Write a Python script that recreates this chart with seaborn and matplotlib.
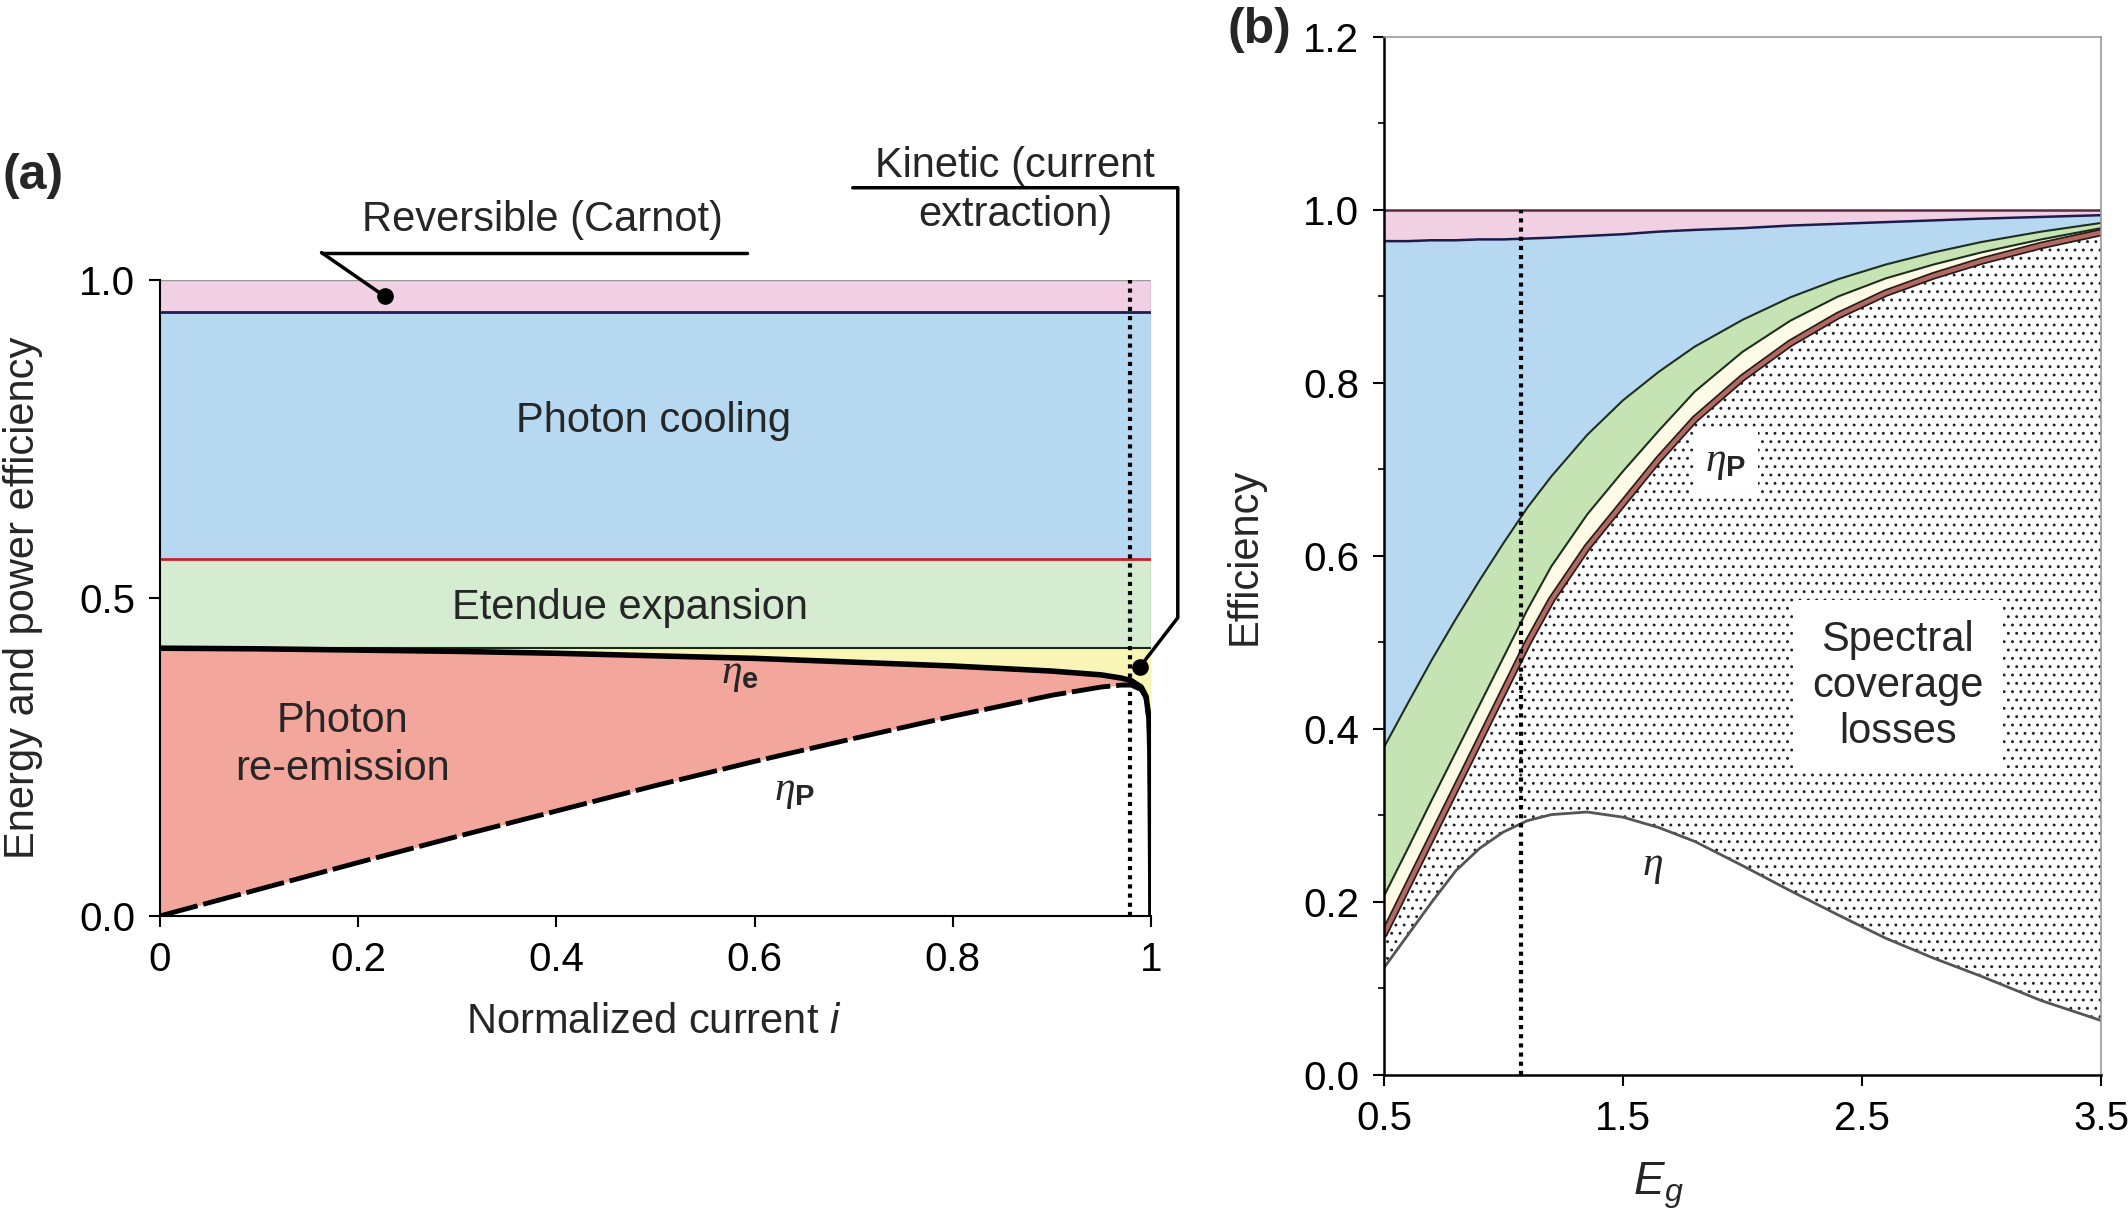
import matplotlib
matplotlib.use("Agg")
import matplotlib.pyplot as plt
import seaborn as sns
from matplotlib.ticker import MultipleLocator

# ---- panel (a) data: normalized current vs efficiency ----
i_cur = [0, 0.1, 0.2, 0.3, 0.4, 0.5, 0.6, 0.7, 0.8, 0.9, 0.95, 0.97, 0.98, 0.99, 0.995, 0.998, 0.999, 1.0]
eta_e = [0.421, 0.420, 0.418, 0.416, 0.413, 0.409, 0.405, 0.399, 0.393, 0.385, 0.379, 0.374, 0.370, 0.360, 0.345, 0.310, 0.250, 0.0]
eta_p_a = [0, 0.042, 0.084, 0.125, 0.165, 0.205, 0.243, 0.279, 0.314, 0.347, 0.360, 0.363, 0.363, 0.356, 0.343, 0.309, 0.250, 0.0]
carnot_a = 0.949
cooling_a = 0.561
etendue_a = 0.421
i_marker = 0.979

# ---- panel (b) data: band gap vs efficiency ----
eg = [0.5, 0.6, 0.7, 0.8, 0.9, 1.0, 1.1, 1.2, 1.35, 1.5, 1.65, 1.8, 2.0, 2.2, 2.4, 2.6, 2.8, 3.0, 3.25, 3.5]
carnot_b = [0.964, 0.964, 0.965, 0.965, 0.966, 0.966, 0.967, 0.968, 0.970, 0.972,
            0.975, 0.977, 0.979, 0.982, 0.984, 0.986, 0.988, 0.990, 0.992, 0.994]
green_top = [0.379, 0.430, 0.480, 0.527, 0.572, 0.615, 0.656, 0.692, 0.740, 0.780,
             0.813, 0.842, 0.873, 0.899, 0.920, 0.937, 0.951, 0.963, 0.975, 0.985]
green_bot = [0.207, 0.262, 0.318, 0.373, 0.428, 0.483, 0.538, 0.588, 0.648, 0.698,
             0.745, 0.790, 0.836, 0.872, 0.900, 0.921, 0.937, 0.951, 0.966, 0.979]
eta_p_b = [0.163, 0.219, 0.275, 0.331, 0.387, 0.443, 0.499, 0.549, 0.610, 0.661,
           0.712, 0.758, 0.806, 0.846, 0.878, 0.904, 0.924, 0.941, 0.959, 0.974]
eta_b = [0.124, 0.162, 0.200, 0.236, 0.262, 0.281, 0.294, 0.301, 0.304, 0.298,
         0.286, 0.270, 0.242, 0.213, 0.185, 0.158, 0.135, 0.114, 0.086, 0.063]
eg_marker = 1.075

sns.set_theme(style="ticks")
plt.rcParams['font.family'] = ['Liberation Sans', 'DejaVu Sans']
plt.rcParams['mathtext.fontset'] = 'custom'
plt.rcParams['mathtext.it'] = 'Liberation Serif:italic'
plt.rcParams['mathtext.rm'] = 'Liberation Sans'
plt.rcParams['mathtext.bf'] = 'Liberation Sans:bold'
plt.rcParams['mathtext.sf'] = 'Liberation Sans:italic'
plt.rcParams['hatch.linewidth'] = 0.9

PINK = '#f2d0e4'
BLUE = '#b6d8f1'
GREEN_A = '#d5ecd1'
GREEN_B = '#c6e3b3'
YELLOW = '#f8f5b6'
SALMON = '#f2a69c'
CREAM = '#fdfbe6'

fig = plt.figure(figsize=(21.28, 12.13), dpi=100)
ax1 = fig.add_axes([0.0752, 0.2449, 0.4657, 0.5243])
ax2 = fig.add_axes([0.6504, 0.1138, 0.3369, 0.8557])

FS = 30

# ================= panel (a) =================
ax1.fill_between([0, 1], carnot_a, 1.0, color=PINK, lw=0)
ax1.fill_between([0, 1], cooling_a, carnot_a, color=BLUE, lw=0)
ax1.fill_between([0, 1], etendue_a, cooling_a, color=GREEN_A, lw=0)
ax1.fill_between(i_cur, eta_e, etendue_a, color=YELLOW, lw=0)
ax1.fill_between(i_cur, eta_p_a, eta_e, color=SALMON, lw=0)

ax1.plot([0, 1], [1.0, 1.0], color='#999999', lw=1)
ax1.plot([1, 1], [etendue_a, 1.0], color='#aaaaaa', lw=1)
ax1.plot([0, 1], [carnot_a, carnot_a], color='#1c1c5c', lw=2)
ax1.plot([0, 1], [cooling_a, cooling_a], color='#c8202c', lw=2)
ax1.plot([0, 1], [etendue_a, etendue_a], color='#1a2a1a', lw=1.5)

sns.lineplot(x=i_cur, y=eta_e, ax=ax1, color='black', lw=4, sort=False)
sns.lineplot(x=i_cur, y=eta_p_a, ax=ax1, color='black', lw=3.5, linestyle=(0, (8, 1.2)), sort=False)
ax1.plot([i_marker, i_marker], [0, 1.0], color='black', lw=3, linestyle=(0, (1, 1.2)))

# annotations
ax1.plot([0.163, 0.592], [1.043, 1.043], color='black', lw=2.5, clip_on=False)
ax1.plot([0.163, 0.227], [1.043, 0.974], color='black', lw=2.5, clip_on=False)
ax1.plot([0.227], [0.974], 'o', color='black', ms=11, clip_on=False)
ax1.text(0.386, 1.094, 'Reversible (Carnot)', ha='center', va='center', fontsize=FS)

ax1.plot([0.699, 1.027, 1.027, 0.989], [1.145, 1.145, 0.469, 0.392], color='black', lw=2.5, clip_on=False)
ax1.plot([0.989], [0.392], 'o', color='black', ms=11, clip_on=False)
ax1.text(0.863, 1.179, 'Kinetic (current', ha='center', va='center', fontsize=FS)
ax1.text(0.863, 1.102, 'extraction)', ha='center', va='center', fontsize=FS)

ax1.text(0.498, 0.778, 'Photon cooling', ha='center', va='center', fontsize=FS)
ax1.text(0.474, 0.484, 'Etendue expansion', ha='center', va='center', fontsize=FS)
ax1.text(0.184, 0.269, 'Photon\nre-emission', ha='center', va='center', fontsize=FS, linespacing=1.25)
ax1.text(0.585, 0.381, r'$\eta_{\mathbf{e}}$', ha='center', va='center', fontsize=FS)
ax1.text(0.64, 0.196, r'$\eta_{\mathbf{P}}$', ha='center', va='center', fontsize=FS)

ax1.set_xlim(0, 1)
ax1.set_ylim(0, 1.0)
ax1.set_xticks([0, 0.2, 0.4, 0.6, 0.8, 1.0])
ax1.set_xticklabels(['0', '0.2', '0.4', '0.6', '0.8', '1'])
ax1.set_yticks([0, 0.5, 1.0])
ax1.set_yticklabels(['0.0', '0.5', '1.0'])
for side in ['top', 'right']:
    ax1.spines[side].set_visible(False)
for side in ['left', 'bottom']:
    ax1.spines[side].set_color('black')
    ax1.spines[side].set_linewidth(1.5)
ax1.tick_params(direction='out', length=8, width=1.5, labelsize=FS - 1, pad=10, colors='black')
ax1.set_xlabel(r'Normalized current $\mathsf{i}$', fontsize=FS)
ax1.set_ylabel('Energy and power efficiency', fontsize=FS)
ax1.xaxis.set_label_coords(0.498, -0.136)
ax1.yaxis.set_label_coords(-0.118, 0.5)

# ================= panel (b) =================
ax2.fill_between(eg, carnot_b, 1.0, color=PINK, lw=0)
ax2.fill_between(eg, green_top, carnot_b, color=BLUE, lw=0)
ax2.fill_between(eg, green_bot, green_top, color=GREEN_B, lw=0)
ax2.fill_between(eg, eta_p_b, green_bot, color=CREAM, lw=0)
ax2.fill_between(eg, eta_b, eta_p_b, facecolor='white', edgecolor='#222222', hatch='..', lw=0)

ax2.plot([0.5, 3.5], [1.0, 1.0], color='#5a2a40', lw=1.8)
sns.lineplot(x=eg, y=carnot_b, ax=ax2, color='#1c1c4c', lw=1.8)
sns.lineplot(x=eg, y=green_top, ax=ax2, color='#1e2e1e', lw=1.5)
sns.lineplot(x=eg, y=green_bot, ax=ax2, color='#1e2e1e', lw=1.5)
sns.lineplot(x=eg, y=eta_p_b, ax=ax2, color='#2a1a1a', lw=5.5)
sns.lineplot(x=eg, y=eta_p_b, ax=ax2, color='#b06a62', lw=3)
sns.lineplot(x=eg, y=eta_b, ax=ax2, color='#555555', lw=2)
ax2.plot([eg_marker, eg_marker], [0, 1.0], color='black', lw=3, linestyle=(0, (1, 1.2)))

ax2.text(1.93, 0.709, r'$\eta_{\mathbf{P}}$', ha='center', va='center', fontsize=FS,
         bbox=dict(facecolor='white', edgecolor='none', pad=8))
ax2.text(1.625, 0.242, r'$\eta$', ha='center', va='center', fontsize=FS)
ax2.text(2.65, 0.45, 'Spectral\ncoverage\nlosses', ha='center', va='center', fontsize=FS,
         linespacing=1.2, bbox=dict(facecolor='white', edgecolor='none', pad=14))

ax2.set_xlim(0.5, 3.5)
ax2.set_ylim(0, 1.2)
ax2.set_xticks([0.5, 1.5, 2.5, 3.5])
ax2.set_xticklabels(['0.5', '1.5', '2.5', '3.5'])
ax2.set_yticks([0, 0.2, 0.4, 0.6, 0.8, 1.0, 1.2])
ax2.set_yticklabels(['0.0', '0.2', '0.4', '0.6', '0.8', '1.0', '1.2'])
ax2.yaxis.set_minor_locator(MultipleLocator(0.1))
for side in ['top', 'right']:
    ax2.spines[side].set_visible(True)
    ax2.spines[side].set_color('#999999')
    ax2.spines[side].set_linewidth(1.2)
for side in ['left', 'bottom']:
    ax2.spines[side].set_color('black')
    ax2.spines[side].set_linewidth(1.8)
ax2.tick_params(direction='out', length=8, width=1.5, labelsize=FS - 1, pad=10, colors='black')
ax2.tick_params(which='minor', direction='out', length=4, width=1.2, left=True, colors='black')
ax2.set_xlabel(r'$\mathsf{E_g}$', fontsize=FS + 3)
ax2.set_ylabel('Efficiency', fontsize=FS)
ax2.xaxis.set_label_coords(0.382, -0.082)
ax2.yaxis.set_label_coords(-0.166, 0.5)

fig.text(0.001, 0.855, '(a)', fontsize=FS + 6, fontweight='bold', ha='left', va='center')
fig.text(0.577, 0.975, '(b)', fontsize=FS + 6, fontweight='bold', ha='left', va='center')

fig.savefig('out.png', dpi=100, facecolor='white')
